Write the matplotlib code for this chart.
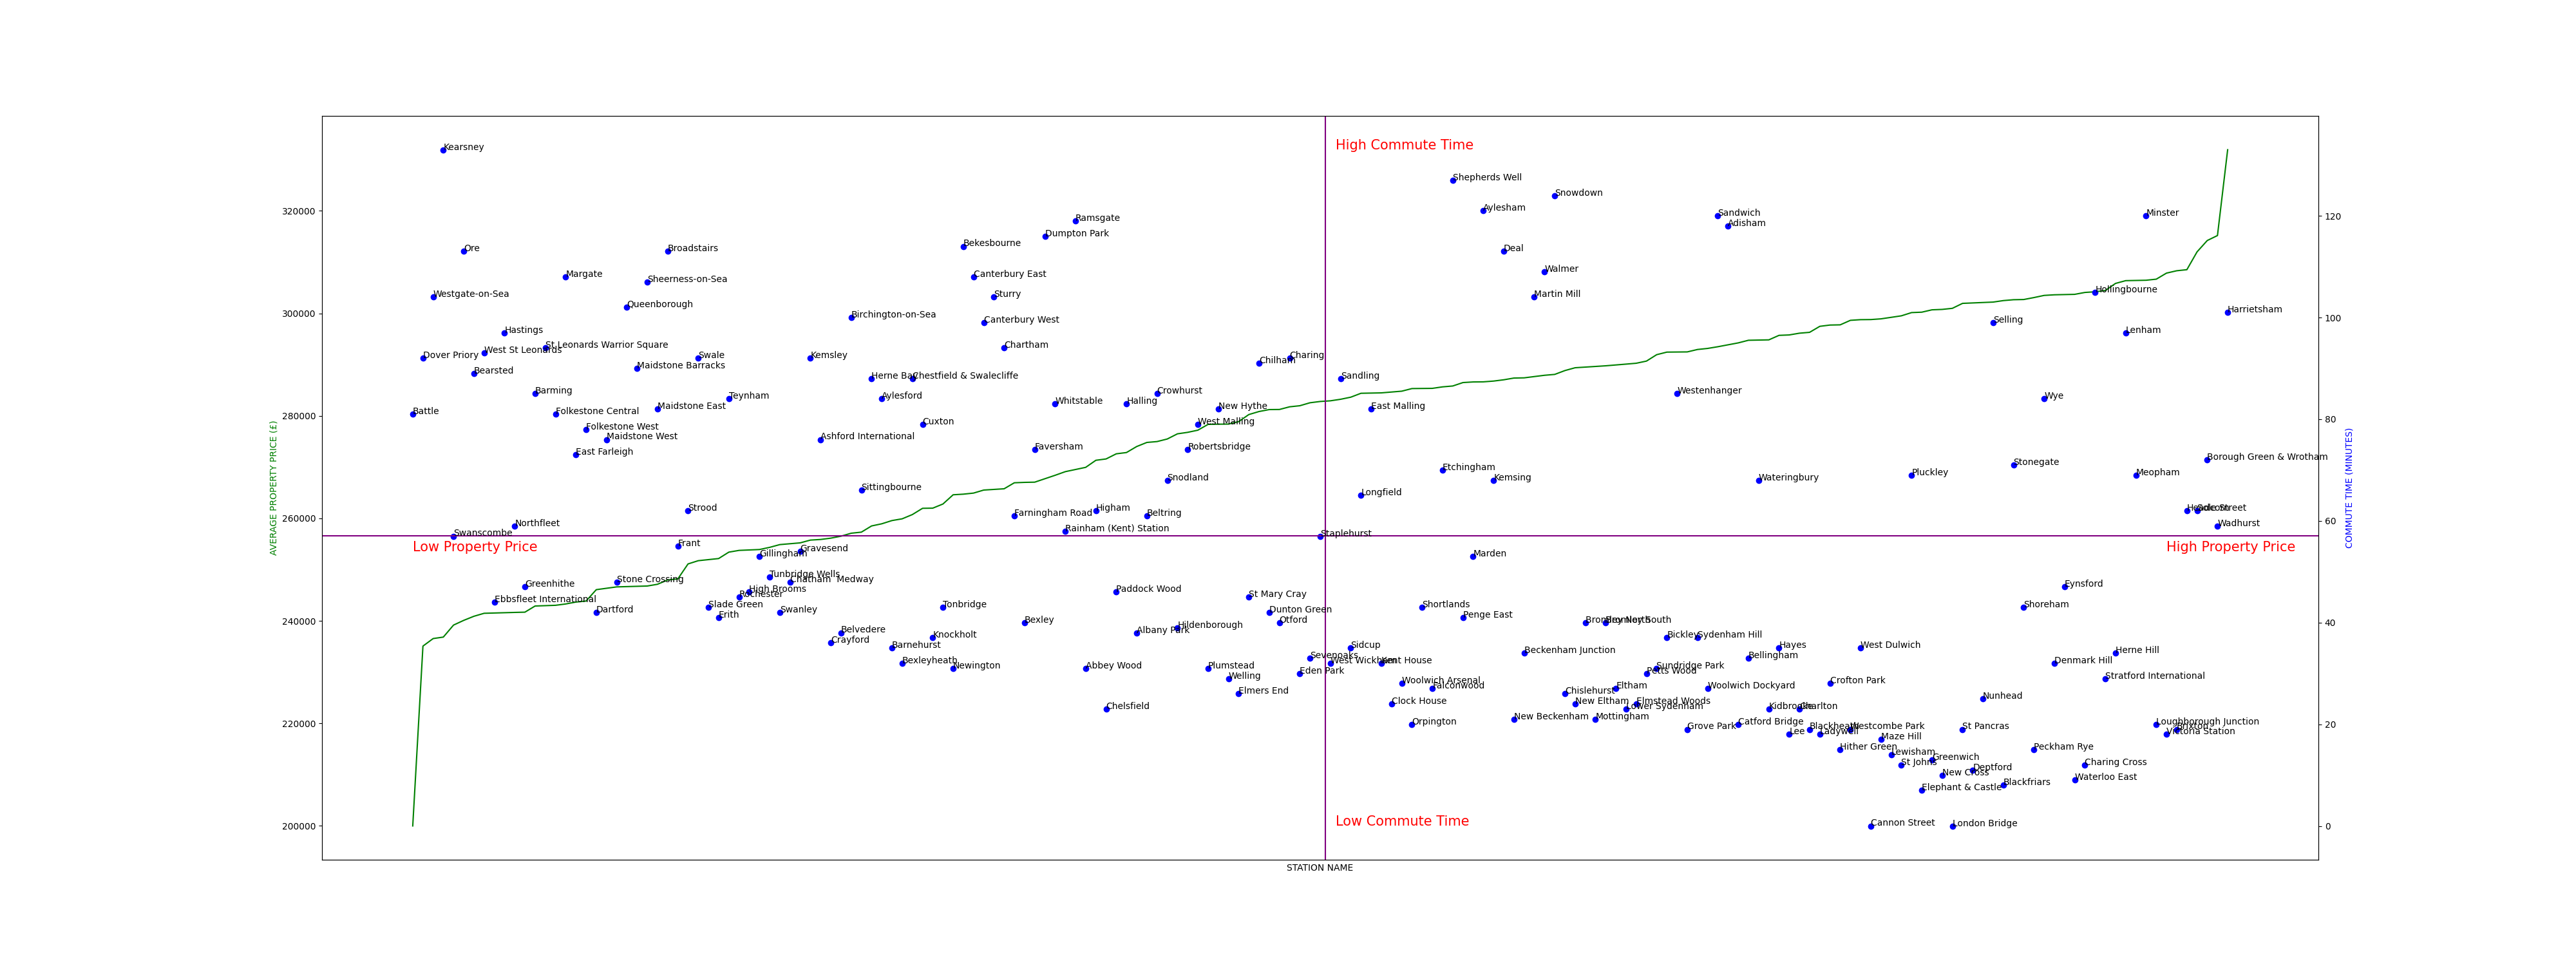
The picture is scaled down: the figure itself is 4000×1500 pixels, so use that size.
import numpy as np
import matplotlib
matplotlib.use("Agg")
import matplotlib.pyplot as plt

stations = [
    "Battle", "Dover Priory", "Westgate-on-Sea", "Kearsney", "Swanscombe", "Ore", "Bearsted",
    "West St Leonards", "Ebbsfleet International", "Hastings", "Northfleet", "Greenhithe",
    "Barming", "St Leonards Warrior Square", "Folkestone Central", "Margate", "East Farleigh",
    "Folkestone West", "Dartford", "Maidstone West", "Stone Crossing", "Queenborough",
    "Maidstone Barracks", "Sheerness-on-Sea", "Maidstone East", "Broadstairs", "Frant",
    "Strood", "Swale", "Slade Green", "Erith", "Teynham", "Rochester", "High Brooms",
    "Gillingham", "Tunbridge Wells", "Swanley", "Chatham  Medway", "Gravesend", "Kemsley",
    "Ashford International", "Crayford", "Belvedere", "Birchington-on-Sea", "Sittingbourne",
    "Herne Bay", "Aylesford", "Barnehurst", "Bexleyheath", "Chestfield & Swalecliffe",
    "Cuxton", "Knockholt", "Tonbridge", "Newington", "Bekesbourne", "Canterbury East",
    "Canterbury West", "Sturry", "Chartham", "Farningham Road", "Bexley", "Faversham",
    "Dumpton Park", "Whitstable", "Rainham (Kent) Station", "Ramsgate", "Abbey Wood",
    "Higham", "Chelsfield", "Paddock Wood", "Halling", "Albany Park", "Beltring",
    "Crowhurst", "Snodland", "Hildenborough", "Robertsbridge", "West Malling", "Plumstead",
    "New Hythe", "Welling", "Elmers End", "St Mary Cray", "Chilham", "Dunton Green",
    "Otford", "Charing", "Eden Park", "Sevenoaks", "Staplehurst", "West Wickham",
    "Sandling", "Sidcup", "Longfield", "East Malling", "Kent House", "Clock House",
    "Woolwich Arsenal", "Orpington", "Shortlands", "Falconwood", "Etchingham",
    "Shepherds Well", "Penge East", "Marden", "Aylesham", "Kemsing", "Deal",
    "New Beckenham", "Beckenham Junction", "Martin Mill", "Walmer", "Snowdown",
    "Chislehurst", "New Eltham", "Bromley North", "Mottingham", "Bromley South", "Eltham",
    "Lower Sydenham", "Elmstead Woods", "Petts Wood", "Sundridge Park", "Bickley",
    "Westenhanger", "Grove Park", "Sydenham Hill", "Woolwich Dockyard", "Sandwich",
    "Adisham", "Catford Bridge", "Bellingham", "Wateringbury", "Kidbrooke", "Hayes",
    "Lee", "Charlton", "Blackheath", "Ladywell", "Crofton Park", "Hither Green",
    "Westcombe Park", "West Dulwich", "Cannon Street", "Maze Hill", "Lewisham",
    "St Johns", "Pluckley", "Elephant & Castle", "Greenwich", "New Cross",
    "London Bridge", "St Pancras", "Deptford", "Nunhead", "Selling", "Blackfriars",
    "Stonegate", "Shoreham", "Peckham Rye", "Wye", "Denmark Hill", "Eynsford",
    "Waterloo East", "Charing Cross", "Hollingbourne", "Stratford International",
    "Herne Hill", "Lenham", "Meopham", "Minster", "Loughborough Junction",
    "Victoria Station", "Brixton", "Headcorn", "Sole Street", "Borough Green & Wrotham",
    "Wadhurst", "Harrietsham",
]

commute_minutes = [
    81, 92, 104, 133, 57, 113, 89, 93, 44, 97,
    59, 47, 85, 94, 81, 108, 73, 78, 42, 76,
    48, 102, 90, 107, 82, 113, 55, 62, 92, 43,
    41, 84, 45, 46, 53, 49, 42, 48, 54, 92,
    76, 36, 38, 100, 66, 88, 84, 35, 32, 88,
    79, 37, 43, 31, 114, 108, 99, 104, 94, 61,
    40, 74, 116, 83, 58, 119, 31, 62, 23, 46,
    83, 38, 61, 85, 68, 39, 74, 79, 31, 82,
    29, 26, 45, 91, 42, 40, 92, 30, 33, 57,
    32, 88, 35, 65, 82, 32, 24, 28, 20, 43,
    27, 70, 127, 41, 53, 121, 68, 113, 21, 34,
    104, 109, 124, 26, 24, 40, 21, 40, 27, 23,
    24, 30, 31, 37, 85, 19, 37, 27, 120, 118,
    20, 33, 68, 23, 35, 18, 23, 19, 18, 28,
    15, 19, 35, 0, 17, 14, 12, 69, 7, 13,
    10, 0, 19, 11, 25, 99, 8, 71, 43, 15,
    84, 32, 47, 9, 12, 105, 29, 34, 97, 69,
    120, 20, 18, 19, 62, 62, 72, 59, 101,
]

avg_price = [
    200000, 235080, 236550, 236840, 239180, 240100, 240900, 241480, 241540, 241590,
    241650, 241700, 242900, 242970, 243040, 243300, 243670, 243870, 246090, 246360,
    246630, 246690, 246740, 246800, 247140, 247980, 248190, 251110, 251740, 251950,
    252160, 253410, 253750, 253840, 253920, 254340, 254880, 255050, 255220, 255760,
    255880, 256140, 256520, 257100, 257310, 258520, 258940, 259570, 259910, 260740,
    261960, 261990, 262800, 264600, 264720, 264930, 265520, 265640, 265770, 266940,
    267020, 267060, 267730, 268400, 269110, 269530, 269950, 271330, 271590, 272590,
    272840, 274010, 274810, 274980, 275480, 276490, 276780, 277200, 278330, 278370,
    278390, 278870, 280250, 280840, 281220, 281240, 281760, 281970, 282550, 282800,
    282930, 283230, 283640, 284400, 284440, 284480, 284650, 284810, 285320, 285340,
    285360, 285650, 285820, 286490, 286610, 286630, 286780, 287030, 287370, 287410,
    287660, 287910, 288080, 288830, 289380, 289510, 289630, 289760, 289920, 290090,
    290260, 290680, 291930, 292430, 292450, 292470, 292940, 293150, 293480, 293860,
    294230, 294740, 294780, 294820, 295700, 295780, 296120, 296290, 297460, 297710,
    297750, 298630, 298760, 298780, 298920, 299220, 299510, 300140, 300220, 300680,
    300760, 300970, 301940, 302020, 302100, 302190, 302480, 302650, 302690, 303070,
    303490, 303610, 303650, 303700, 304070, 304200, 304450, 305830, 306370, 306410,
    306450, 306660, 307840, 308300, 308510, 311990, 314200, 315170, 331910,
]

n = len(stations)
x = np.arange(n)
mean_commute = np.mean(commute_minutes)

fig, ax = plt.subplots(figsize=(40, 15), dpi=100)
ax.plot(x, avg_price, color="green")
ax.set_xlabel("STATION NAME")
ax.set_ylabel("AVERAGE PROPERTY PRICE (£)", color="green")
ax.set_xticks([])
ax.axvline(n / 2, color="purple")

ax2 = ax.twinx()
ax2.scatter(x, commute_minutes, color="blue")
for xi, ci, name in zip(x, commute_minutes, stations):
    ax2.text(xi, ci, name)
ax2.set_ylabel("COMMUTE TIME (MINUTES)", color="blue")
ax2.axhline(mean_commute, color="purple")

ax2.text(n / 2 + 1, max(commute_minutes), "High Commute Time", color="red", fontsize=15)
ax2.text(n / 2 + 1, min(commute_minutes), "Low Commute Time", color="red", fontsize=15)
ax2.text(0, mean_commute - 3, "Low Property Price", color="red", fontsize=15)
ax2.text(n - 7, mean_commute - 3, "High Property Price", color="red", fontsize=15)

fig.savefig("out.png", dpi=100)
